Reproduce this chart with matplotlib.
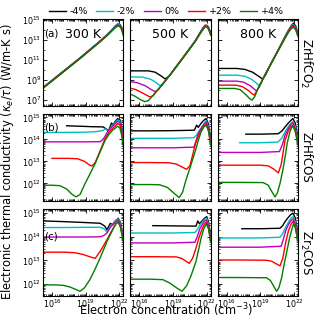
import numpy as np
import matplotlib.pyplot as plt
from matplotlib.ticker import FixedLocator, LogLocator, LogFormatterMathtext, NullFormatter

strains = ['-4%', '-2%', '0%', '+2%', '+4%']
colors = ['k', 'c', 'm', 'r', 'g']
temps = ['300 K', '500 K', '800 K']
materials = ['ZrHfCO$_2$', 'ZrHfCOS', 'Zr$_2$COS']
tags = ['(a)', '(b)', '(c)']

# values as log10(n / cm^-3) and log10(kappa_e/tau)
# order of curves in every panel: -4, -2, 0, +2, +4 %

# ---- ZrHfCO2 ----
n300 = [15.2, 16.5, 17.5, 18.5, 19.4, 20.2, 20.9, 21.3, 21.6, 21.85, 22.05, 22.2, 22.35]
co2_300_n = [n300] * 5
co2_300_k = [
    [8.27, 9.44, 10.34, 11.24, 12.09, 12.84, 13.55, 14.0, 14.38, 14.62, 14.58, 14.3, 13.75],
    [8.25, 9.42, 10.32, 11.22, 12.07, 12.82, 13.53, 13.98, 14.34, 14.57, 14.53, 14.24, 13.7],
    [8.23, 9.4, 10.3, 11.2, 12.05, 12.8, 13.5, 13.95, 14.3, 14.52, 14.48, 14.18, 13.63],
    [8.21, 9.38, 10.28, 11.18, 12.03, 12.78, 13.47, 13.92, 14.26, 14.47, 14.42, 14.12, 13.57],
    [8.18, 9.35, 10.25, 11.15, 12.0, 12.75, 13.44, 13.88, 14.21, 14.42, 14.36, 14.05, 13.5],
]

co2_500_n = [
    [15.2, 16.8, 17.4, 17.9, 18.3, 18.7, 19.0, 19.5, 20.0, 20.5, 21.0, 21.35, 21.6, 21.85, 22.05, 22.2, 22.35],
    [15.2, 16.3, 17.0, 17.5, 17.85, 18.2, 18.5, 19.0, 19.5, 20.0, 20.5, 21.0, 21.35, 21.6, 21.85, 22.05, 22.2, 22.35],
    [15.2, 15.8, 16.5, 17.0, 17.4, 17.7, 18.0, 18.5, 19.0, 19.5, 20.0, 20.5, 21.0, 21.35, 21.6, 21.85, 22.05, 22.2, 22.35],
    [15.2, 15.7, 16.3, 16.95, 17.25, 17.5, 18.0, 18.5, 19.0, 19.5, 20.0, 20.5, 21.0, 21.35, 21.6, 21.85, 22.05, 22.2, 22.35],
    [15.2, 15.6, 16.1, 16.5, 16.8, 17.0, 17.5, 18.0, 18.5, 19.0, 19.5, 20.0, 20.5, 21.0, 21.35, 21.6, 21.85, 22.05, 22.2, 22.35],
]
co2_500_k = [
    [9.93, 9.93, 9.8, 9.45, 9.12, 9.45, 9.95, 10.7, 11.45, 12.2, 12.98, 13.65, 14.12, 14.5, 14.48, 14.2, 13.7],
    [9.33, 9.3, 9.1, 8.75, 8.45, 8.75, 9.2, 9.92, 10.67, 11.42, 12.17, 12.96, 13.62, 14.08, 14.46, 14.44, 14.16, 13.66],
    [8.85, 8.75, 8.45, 8.1, 7.85, 8.05, 8.5, 9.2, 9.9, 10.65, 11.4, 12.15, 12.95, 13.6, 14.05, 14.42, 14.4, 14.12, 13.62],
    [8.2, 8.05, 7.7, 7.32, 7.45, 7.85, 8.5, 9.2, 9.9, 10.65, 11.4, 12.15, 12.93, 13.57, 14.0, 14.37, 14.35, 14.06, 13.57],
    [7.6, 7.4, 7.05, 6.85, 6.95, 7.2, 7.85, 8.5, 9.2, 9.9, 10.65, 11.4, 12.15, 12.9, 13.53, 13.95, 14.32, 14.3, 14.0, 13.5],
]

co2_800_n = [
    [15.2, 16.9, 17.6, 18.3, 18.9, 19.2, 19.45, 19.8, 20.3, 20.8, 21.2, 21.5, 21.75, 21.95, 22.15, 22.35],
    [15.2, 16.9, 17.6, 18.2, 18.65, 18.9, 19.15, 19.3, 19.8, 20.3, 20.8, 21.2, 21.5, 21.75, 21.95, 22.15, 22.35],
    [15.2, 16.9, 17.5, 18.1, 18.45, 18.65, 18.9, 19.3, 19.8, 20.3, 20.8, 21.2, 21.5, 21.75, 21.95, 22.15, 22.35],
    [15.2, 16.8, 17.4, 17.9, 18.25, 18.45, 18.7, 19.3, 19.8, 20.3, 20.8, 21.2, 21.5, 21.75, 21.95, 22.15, 22.35],
    [15.2, 16.7, 17.2, 17.7, 18.05, 18.25, 18.5, 18.8, 19.3, 19.8, 20.3, 20.8, 21.2, 21.5, 21.75, 21.95, 22.15, 22.35],
]
co2_800_k = [
    [10.17, 10.17, 10.08, 9.8, 9.35, 9.1, 9.5, 10.35, 11.42, 12.48, 13.38, 14.0, 14.45, 14.7, 14.42, 13.7],
    [9.5, 9.5, 9.4, 9.1, 8.7, 8.45, 8.9, 9.3, 10.35, 11.4, 12.45, 13.33, 13.95, 14.37, 14.57, 14.3, 13.62],
    [8.9, 8.9, 8.8, 8.45, 8.1, 7.93, 8.3, 9.3, 10.35, 11.4, 12.45, 13.3, 13.9, 14.32, 14.5, 14.22, 13.55],
    [8.5, 8.5, 8.35, 8.0, 7.65, 7.5, 7.95, 9.3, 10.35, 11.38, 12.42, 13.25, 13.83, 14.22, 14.38, 14.1, 13.45],
    [8.17, 8.17, 8.05, 7.55, 7.15, 7.0, 7.35, 8.2, 9.25, 10.3, 11.35, 12.38, 13.2, 13.78, 14.15, 14.3, 14.02, 13.38],
]

# ---- ZrHfCOS ----
cos_300_n = [
    [17.3, 18.5, 19.5, 20.55, 20.9, 21.05, 21.3, 21.45, 21.6, 21.85, 22.05, 22.2, 22.35],
    [15.2, 17.0, 19.0, 19.85, 20.5, 20.75, 20.9, 21.05, 21.3, 21.6, 21.85, 22.05, 22.2, 22.35],
    [15.2, 17.0, 19.0, 20.3, 20.5, 20.7, 21.0, 21.3, 21.6, 21.85, 22.05, 22.2, 22.35],
    [16.0, 17.5, 18.3, 18.9, 19.3, 19.55, 19.85, 20.3, 20.74, 21.1, 21.4, 21.65, 21.85, 22.05, 22.2, 22.35],
    [15.2, 16.0, 16.7, 17.3, 17.8, 18.15, 18.5, 18.95, 19.4, 19.84, 20.3, 20.74, 21.1, 21.4, 21.65, 21.85, 22.05, 22.2, 22.35],
]
cos_300_k = [
    [14.62, 14.6, 14.58, 14.57, 14.45, 14.4, 14.75, 14.65, 14.8, 14.95, 14.9, 14.6, 14.1],
    [14.32, 14.32, 14.33, 14.35, 14.4, 14.48, 14.42, 14.4, 14.6, 14.75, 14.88, 14.82, 14.5, 14.0],
    [13.89, 13.89, 13.89, 13.9, 13.98, 14.12, 14.4, 14.55, 14.7, 14.82, 14.76, 14.45, 13.95],
    [13.14, 13.14, 13.12, 13.0, 12.85, 12.79, 12.95, 13.5, 14.05, 14.35, 14.5, 14.62, 14.72, 14.66, 14.35, 13.85],
    [11.92, 11.92, 11.9, 11.75, 11.5, 11.39, 11.5, 12.0, 12.45, 12.9, 13.45, 13.97, 14.25, 14.42, 14.52, 14.6, 14.52, 14.2, 13.7],
]

cos_500_n = [
    [15.2, 17.0, 19.0, 20.9, 21.1, 21.25, 21.45, 21.7, 21.95, 22.15, 22.35],
    [15.2, 17.0, 19.0, 20.85, 21.1, 21.3, 21.55, 21.8, 21.95, 22.15, 22.35],
    [15.2, 17.0, 19.0, 20.85, 21.0, 21.2, 21.45, 21.7, 21.95, 22.15, 22.35],
    [15.2, 17.0, 18.65, 19.3, 19.8, 20.2, 20.5, 20.8, 21.0, 21.3, 21.6, 21.8, 21.95, 22.15, 22.35],
    [15.2, 17.0, 17.8, 18.5, 19.1, 19.55, 19.85, 20.15, 20.6, 21.0, 21.25, 21.5, 21.75, 21.95, 22.15, 22.35],
]
cos_500_k = [
    [14.39, 14.39, 14.4, 14.42, 14.65, 14.55, 14.7, 14.85, 14.95, 14.7, 14.1],
    [14.05, 14.05, 14.05, 14.08, 14.2, 14.38, 14.55, 14.75, 14.85, 14.6, 14.0],
    [13.62, 13.62, 13.62, 13.65, 13.85, 14.2, 14.45, 14.65, 14.78, 14.52, 13.95],
    [12.95, 12.95, 12.94, 12.88, 12.75, 12.64, 12.8, 13.4, 13.82, 14.2, 14.5, 14.63, 14.7, 14.45, 13.85],
    [11.95, 11.95, 11.94, 11.82, 11.55, 11.36, 11.6, 12.15, 12.85, 13.5, 13.95, 14.35, 14.57, 14.65, 14.4, 13.75],
]

cos_800_n = [
    [17.7, 19.0, 20.6, 20.95, 21.2, 21.5, 21.75, 21.9, 22.1, 22.35],
    [17.16, 19.0, 20.55, 20.9, 21.2, 21.5, 21.75, 21.9, 22.1, 22.35],
    [15.2, 17.0, 19.0, 20.7, 20.95, 21.2, 21.5, 21.75, 21.9, 22.1, 22.35],
    [15.2, 17.0, 19.0, 19.7, 20.2, 20.6, 20.85, 21.2, 21.5, 21.75, 21.9, 22.1, 22.35],
    [15.2, 17.0, 19.25, 19.7, 20.0, 20.3, 20.5, 20.75, 21.0, 21.2, 21.4, 21.63, 21.8, 21.9, 22.1, 22.35],
]
cos_800_k = [
    [14.24, 14.24, 14.26, 14.4, 14.57, 14.75, 14.88, 14.95, 14.75, 14.1],
    [13.85, 13.85, 13.88, 14.05, 14.35, 14.6, 14.75, 14.82, 14.6, 14.0],
    [13.41, 13.41, 13.41, 13.45, 13.75, 14.2, 14.5, 14.7, 14.75, 14.5, 13.9],
    [12.83, 12.83, 12.83, 12.8, 12.65, 12.48, 12.85, 13.97, 14.4, 14.6, 14.65, 14.4, 13.8],
    [12.05, 12.05, 12.04, 11.92, 11.65, 11.39, 11.55, 12.0, 12.6, 13.2, 13.85, 14.35, 14.55, 14.6, 14.4, 13.75],
]

# ---- Zr2COS ----
zr_300_n = [
    [15.2, 17.0, 19.0, 20.3, 20.7, 20.9, 21.2, 21.4, 21.6, 21.9, 22.1, 22.35],
    [15.2, 17.0, 19.0, 20.3, 20.6, 20.9, 21.2, 21.5, 21.7, 21.9, 22.1, 22.35],
    [15.2, 17.0, 19.0, 20.3, 20.6, 20.9, 21.2, 21.5, 21.7, 21.9, 22.1, 22.35],
    [15.2, 17.0, 18.0, 18.8, 19.4, 19.85, 20.3, 20.9, 21.2, 21.5, 21.7, 21.9, 22.1, 22.35],
    [15.2, 16.3, 17.0, 17.6, 18.1, 18.5, 18.9, 19.4, 19.85, 20.3, 20.9, 21.2, 21.5, 21.7, 21.9, 22.1, 22.35],
]
zr_300_k = [
    [14.67, 14.64, 14.6, 14.57, 14.45, 14.3, 14.57, 14.5, 14.65, 14.78, 14.6, 14.0],
    [14.39, 14.39, 14.4, 14.4, 14.35, 14.2, 14.45, 14.6, 14.7, 14.75, 14.55, 13.95],
    [13.99, 13.99, 13.99, 14.0, 14.05, 14.16, 14.4, 14.55, 14.65, 14.7, 14.5, 13.9],
    [13.35, 13.35, 13.33, 13.25, 13.15, 13.09, 13.39, 13.88, 14.15, 14.4, 14.55, 14.62, 14.42, 13.85],
    [11.97, 11.97, 11.95, 11.88, 11.78, 11.7, 11.85, 12.21, 12.65, 13.12, 13.81, 14.1, 14.38, 14.55, 14.64, 14.4, 13.8],
]

zr_500_n = [
    [17.2, 19.0, 21.05, 21.2, 21.35, 21.55, 21.8, 22.0, 22.15, 22.35],
    [15.2, 17.0, 19.0, 20.95, 21.15, 21.4, 21.65, 21.85, 22.0, 22.15, 22.35],
    [15.2, 17.0, 19.0, 20.95, 21.15, 21.4, 21.65, 21.85, 22.0, 22.15, 22.35],
    [15.2, 17.0, 19.3, 19.8, 20.2, 20.45, 20.75, 21.05, 21.3, 21.5, 21.75, 21.95, 22.15, 22.35],
    [15.2, 17.0, 18.1, 18.7, 19.3, 19.8, 20.2, 20.6, 21.05, 21.3, 21.5, 21.75, 21.95, 22.15, 22.35],
]
zr_500_k = [
    [14.47, 14.46, 14.45, 14.67, 14.55, 14.65, 14.78, 14.85, 14.65, 14.1],
    [14.16, 14.16, 14.16, 14.18, 14.3, 14.5, 14.65, 14.75, 14.78, 14.55, 14.0],
    [13.74, 13.74, 13.74, 13.77, 14.0, 14.35, 14.55, 14.68, 14.7, 14.5, 13.95],
    [13.16, 13.16, 13.15, 13.08, 12.95, 12.88, 13.1, 13.53, 13.95, 14.22, 14.5, 14.62, 14.4, 13.85],
    [12.21, 12.21, 12.19, 12.05, 11.85, 11.7, 11.92, 12.35, 12.97, 13.5, 13.95, 14.35, 14.55, 14.35, 13.8],
]

zr_800_n = [
    [17.35, 19.0, 20.75, 21.0, 21.2, 21.45, 21.7, 21.9, 22.1, 22.35],
    [15.2, 17.0, 19.0, 20.75, 21.0, 21.25, 21.5, 21.75, 21.9, 22.1, 22.35],
    [15.2, 17.0, 19.0, 20.85, 21.05, 21.25, 21.5, 21.75, 21.9, 22.1, 22.35],
    [15.2, 17.0, 19.5, 20.0, 20.45, 20.75, 21.0, 21.25, 21.5, 21.75, 21.9, 22.1, 22.35],
    [15.2, 17.0, 19.55, 19.9, 20.2, 20.45, 20.65, 20.9, 21.1, 21.36, 21.6, 21.8, 21.95, 22.1, 22.35],
]
zr_800_k = [
    [14.34, 14.34, 14.36, 14.48, 14.64, 14.8, 14.93, 15.0, 14.8, 14.15],
    [13.95, 13.95, 13.95, 13.98, 14.15, 14.4, 14.62, 14.8, 14.85, 14.65, 14.05],
    [13.56, 13.56, 13.56, 13.6, 13.9, 14.25, 14.52, 14.7, 14.75, 14.55, 13.95],
    [13.02, 13.02, 13.01, 12.97, 12.85, 12.77, 13.1, 13.75, 14.25, 14.55, 14.65, 14.45, 13.85],
    [12.28, 12.28, 12.27, 12.15, 11.9, 11.7, 11.85, 12.28, 12.8, 13.39, 13.95, 14.3, 14.55, 14.4, 13.8],
]

panels = [
    [(co2_300_n, co2_300_k), (co2_500_n, co2_500_k), (co2_800_n, co2_800_k)],
    [(cos_300_n, cos_300_k), (cos_500_n, cos_500_k), (cos_800_n, cos_800_k)],
    [(zr_300_n, zr_300_k), (zr_500_n, zr_500_k), (zr_800_n, zr_800_k)],
]
row_ylim = [(10**6.4, 10**15.1), (10**11.2, 10**15.15), (10**11.5, 10**15.17)]
row_yticks = [[1e7, 1e9, 1e11, 1e13, 1e15], [1e12, 1e13, 1e14, 1e15], [1e12, 1e13, 1e14, 1e15]]

fig, axes = plt.subplots(3, 3, figsize=(3.14, 3.2), dpi=100)
fig.subplots_adjust(left=0.137, right=0.949, top=0.94, bottom=0.075, hspace=0.092, wspace=0.088)

for i in range(3):
    for j in range(3):
        ax = axes[i, j]
        n_list, k_list = panels[i][j]
        for n, k, c, s in zip(n_list, k_list, colors, strains):
            ax.plot(10**np.array(n), 10**np.array(k), color=c, lw=1.0, label=s)
        ax.set_xscale('log')
        ax.set_yscale('log')
        ax.set_xlim(10**15.2, 10**22.35)
        ax.set_ylim(*row_ylim[i])
        ax.xaxis.set_major_locator(FixedLocator([1e16, 1e19, 1e22]))
        ax.xaxis.set_minor_locator(LogLocator(base=10, subs=np.arange(1, 10), numticks=100))
        ax.yaxis.set_major_locator(FixedLocator(row_yticks[i]))
        if i == 0:
            ax.yaxis.set_minor_locator(LogLocator(base=10, subs=(1.0,), numticks=100))
        else:
            ax.yaxis.set_minor_locator(LogLocator(base=10, subs=np.arange(1, 10), numticks=100))
        ax.xaxis.set_minor_formatter(NullFormatter())
        ax.yaxis.set_minor_formatter(NullFormatter())
        ax.xaxis.set_major_formatter(LogFormatterMathtext())
        ax.yaxis.set_major_formatter(LogFormatterMathtext())
        ax.tick_params(which='both', direction='in', top=True, right=True, labelsize=5.8, pad=1.5)
        ax.tick_params(axis='x', pad=0.8)
        ax.tick_params(which='major', length=3, width=0.6)
        ax.tick_params(which='minor', length=1.5, width=0.5)
        for sp in ax.spines.values():
            sp.set_linewidth(0.8)
        if j > 0:
            ax.set_yticklabels([])
        if i < 2:
            ax.set_xticklabels([])
        if i == 0:
            ax.text(0.5, 0.82, temps[j], transform=ax.transAxes, ha='center', va='center', fontsize=9)
        if j == 0:
            ty = [0.84, 0.85, 0.68][i]
            ax.text(0.01, ty, tags[i], transform=ax.transAxes, ha='left', va='center', fontsize=7.5)
        if j == 2:
            ax.text(1.1, 0.5, materials[i], transform=ax.transAxes, ha='center', va='center',
                    rotation=270, fontsize=8.5)

handles, labels = axes[0, 0].get_legend_handles_labels()
fig.legend(handles, labels, loc='center', bbox_to_anchor=(0.53, 0.963), ncol=5, frameon=False,
           fontsize=6.8, handlelength=1.8, handletextpad=0.4, columnspacing=0.9)

fig.text(0.025, 0.494, r'Electronic thermal conductivity ($\kappa_e/\tau$) (W/m-K s)',
         rotation=90, ha='center', va='center', fontsize=8.3)
fig.text(0.53, 0.004, r'Electron concentration (cm$^{-3}$)', ha='center', va='bottom', fontsize=8.3)

plt.savefig('out.png', dpi=100)
